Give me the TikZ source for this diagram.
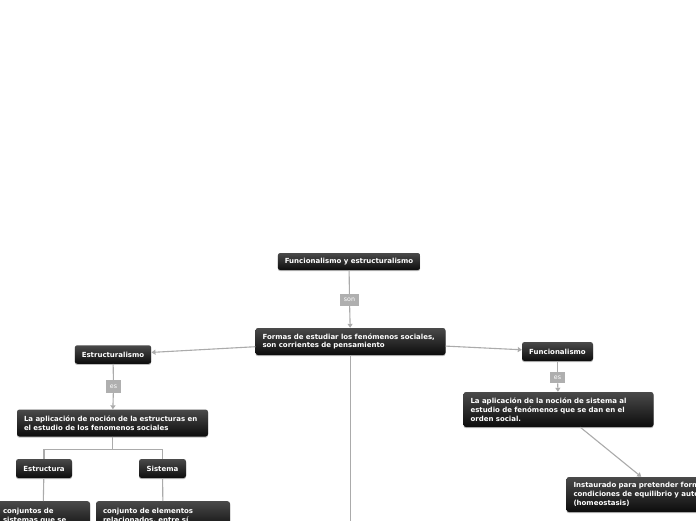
\documentclass[tikz,border=0pt]{standalone}
\usepackage{fontspec}
\setmainfont{DejaVu Sans}
\usetikzlibrary{shadows,arrows.meta}
\definecolor{edgegray}{HTML}{ABABAB}
\definecolor{nodetop}{HTML}{4A4A4A}
\definecolor{nodebot}{HTML}{0C0C0C}
\definecolor{labgray}{HTML}{AFAFAF}
\tikzset{
  topic/.style={rounded corners=2.5pt, top color=nodetop, bottom color=nodebot,
    text=white, font=\fontsize{7}{8.8}\selectfont\bfseries,
    inner xsep=7pt, inner ysep=0pt, align=left,
    drop shadow={shadow xshift=0pt, shadow yshift=-1.2pt, fill=black, opacity=0.25}},
  lab/.style={fill=labgray, text=white, font=\fontsize{6.3}{7}\selectfont,
    inner sep=0pt, minimum height=12pt},
  conn/.style={draw=edgegray, line width=1.1pt},
  arr/.style={conn, -{Triangle[length=4pt,width=5pt]}},
}
\begin{document}
\begin{tikzpicture}[x=1pt,y=-1pt]
\useasboundingbox (0,0) rectangle (696,520);
\clip (0,0) rectangle (696,520);
\fill[white] (0,0) rectangle (696,520);
% nodes
\node[topic, minimum width=142pt, minimum height=17pt, align=center] (top) at (349,261.5) {Funcionalismo y estructuralismo};
\node[topic, minimum width=189pt, minimum height=27pt, text width=176pt] (main) at (350.5,341.5) {Formas de estudiar los fenómenos sociales,\\son corrientes de pensamiento};
\node[topic, minimum width=76pt, minimum height=18.5pt, align=center] (estr) at (113,354.5) {Estructuralismo};
\node[topic, minimum width=71pt, minimum height=19pt, align=center] (func) at (557.5,351.5) {Funcionalismo};
\node[topic, minimum width=190pt, minimum height=27pt, text width=177pt] (apl1) at (112.5,423) {La aplicación de noción de la estructuras en\\el estudio de los fenomenos sociales};
\node[topic, minimum width=56pt, minimum height=19pt, align=center] (estc) at (44,468.5) {Estructura};
\node[topic, minimum width=47pt, minimum height=19pt, align=center] (sist) at (162.5,468.5) {Sistema};
\node[topic, anchor=north, minimum width=92pt, text width=80pt, inner ysep=7pt] (conj1) at (43,501) {conjuntos de\\sistemas que se};
\node[topic, anchor=north, minimum width=132pt, text width=120pt, inner ysep=7pt] (conj2) at (163,501) {conjunto de elementos\\relacionados, entre sí};
\node[topic, minimum width=189pt, minimum height=35pt, text width=176pt] (apl2) at (558.5,409.5) {La aplicación de la noción de sistema al\\estudio de fenómenos que se dan en el\\orden social.};
\node[topic, minimum width=192pt, minimum height=35pt, text width=179pt] (inst) at (663,494.5) {Instaurado para pretender formar\\condiciones de equilibrio y autorregulación\\(homeostasis)};
% labels
\node[lab, minimum width=19pt] (son) at (349.5,300) {son};
\node[lab, minimum width=15pt, minimum height=13pt] (es1) at (113.5,386.5) {es};
\node[lab, minimum width=15pt, minimum height=11.5pt] (es2) at (557.5,377.5) {es};
\coordinate (down) at (350.5,560);
% connectors
\draw[conn] (top) -- (son);
\draw[arr] (son) -- (main);
\draw[arr] (main) -- (estr);
\draw[arr] (main) -- (func);
\draw[conn] (main) -- (down);
\draw[conn] (estr) -- (es1);
\draw[arr] (es1) -- (apl1);
\draw[conn] (func) -- (es2);
\draw[arr] (es2) -- (apl2);
\draw[conn] (apl1.south) -- ++(0,13) -| (estc);
\draw[conn] (apl1.south) -- ++(0,13) -| (sist);
\draw[conn] (estc) -- (conj1);
\draw[conn] (sist) -- (conj2);
\draw[arr] (apl2) -- (inst);
\end{tikzpicture}
\end{document}
